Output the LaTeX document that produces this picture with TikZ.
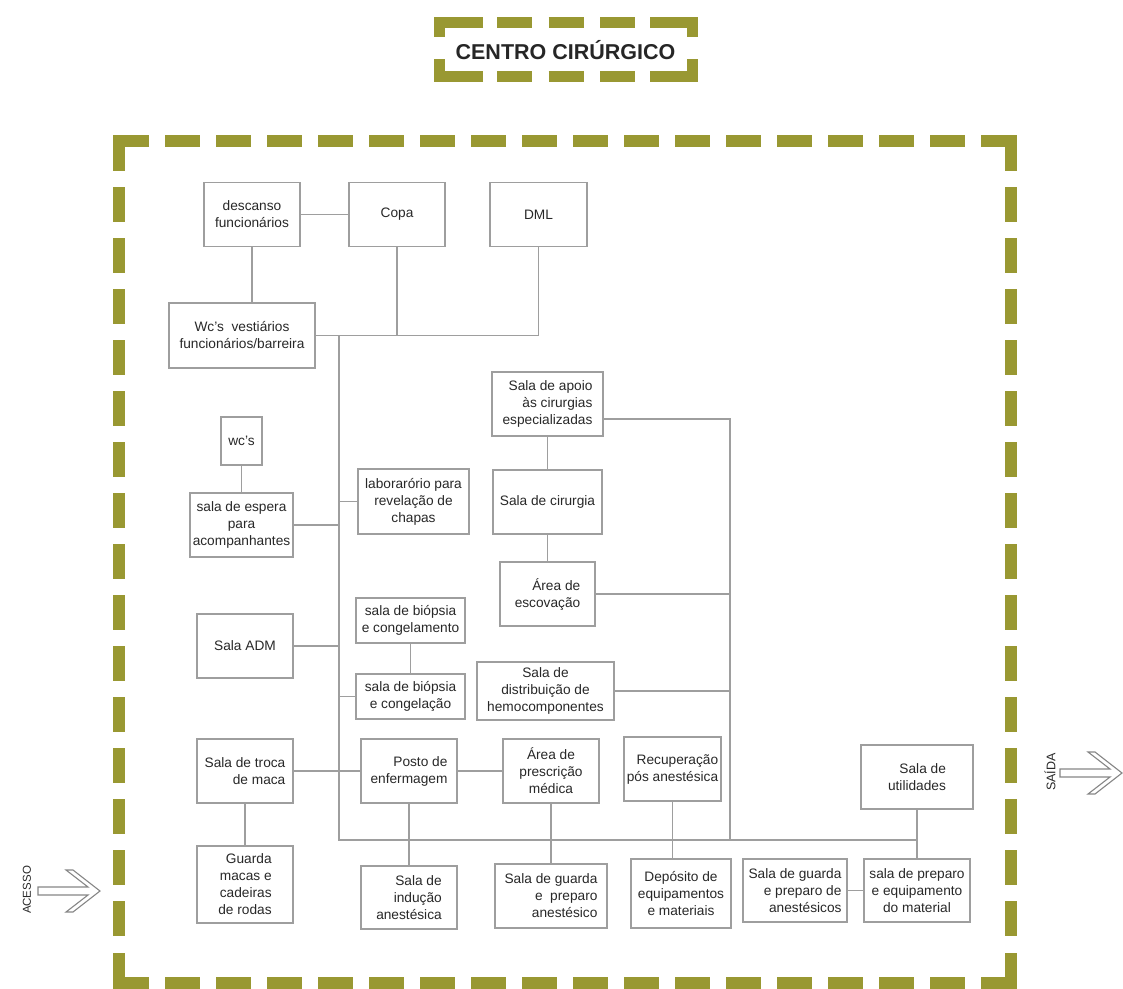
\documentclass[tikz,border=0pt]{standalone}
\usepackage{fontspec}
\setmainfont{Liberation Sans}
\usetikzlibrary{calc}
\definecolor{oliva}{RGB}{153,152,50}
\definecolor{cinza}{RGB}{158,158,158}
\definecolor{texto}{RGB}{40,40,40}
\tikzset{
  sala/.style={draw=cinza, line width=1.6pt, fill=white, text=texto, align=center,
    font=\fontsize{13.7}{17}\selectfont, minimum width=96pt, minimum height=64pt, inner sep=1pt},
  liga/.style={draw=cinza, line width=1.6pt},
  moldura/.style={draw=oliva, line width=12pt},
  moldurat/.style={draw=oliva, line width=11pt},
  pics/seta/.style={code={
    \draw[cinza!85!black, line width=1.1pt, fill=white, line join=miter]
      (-62,4) -- (-12,4) -- (-34,21) -- (-27,21) -- (0,0) -- (-27,-21)
      -- (-34,-21) -- (-12,-4) -- (-62,-4) -- cycle;}},
}

\begin{document}
\begin{tikzpicture}[x=1pt, y=-1pt]
    \useasboundingbox (0,0) rectangle (1123,988);

    % title frame
    \draw[moldurat] (483,22.5) -- (439,22.5) -- (439,37);
    \draw[moldurat] (650,22.5) -- (692.5,22.5) -- (692.5,37);
    \draw[moldurat] (483,76) -- (439,76) -- (439,59);
    \draw[moldurat] (650,76) -- (692.5,76) -- (692.5,59);
    \draw[moldurat, dash pattern=on 35pt off 16.5pt] (497,22.5) -- (635,22.5);
    \draw[moldurat, dash pattern=on 35pt off 16.5pt] (497,76) -- (635,76);
    \node[text=black!85, font=\fontsize{21.5}{24}\selectfont\bfseries] (titulo) at (565.5,50) {CENTRO CIRÚRGICO};

    % outer frame
    \draw[moldura] (149,141) -- (119,141) -- (119,171);
    \draw[moldura] (981,141) -- (1011,141) -- (1011,171);
    \draw[moldura] (1011,953) -- (1011,983) -- (981,983);
    \draw[moldura] (149,983) -- (119,983) -- (119,953);
    \draw[moldura, dash pattern=on 35pt off 16pt] (165,141) -- (965,141);
    \draw[moldura, dash pattern=on 35pt off 16pt] (165,983) -- (965,983);
    \draw[moldura, dash pattern=on 35pt off 16pt] (119,187) -- (119,936);
    \draw[moldura, dash pattern=on 35pt off 16pt] (1011,187) -- (1011,936);

    % access and exit
    \pic at (100,891) {seta};
    \node[rotate=90, text=texto, font=\fontsize{11.5}{12}\selectfont] (acesso) at (27,890) {ACESSO};
    \pic at (1122,773) {seta};
    \node[rotate=90, text=texto, font=\fontsize{12.5}{13}\selectfont] (saida) at (1050,772) {SAÍDA};

    % rooms
    \node[sala] (descanso) at (252,214.5) {descanso\\funcionários};
    \node[sala] (copa) at (397,214.5) {Copa};
    \node[sala, minimum width=97pt] (dml) at (538.5,214.5) {DML};
    \node[sala, minimum width=146pt, minimum height=65pt] (vestiario) at (242,335.5) {Wc's~ vestiários\\funcionários/barreira};
    \node[sala, minimum width=41pt, minimum height=48pt] (wc) at (241.5,441) {wc's};
    \node[sala, minimum width=103pt] (espera) at (241.5,525) {sala de espera\\para\\acompanhantes};
    \node[sala, minimum width=111pt, minimum height=65pt] (lab) at (413.5,501.5) {laborarório para\\revelação de\\chapas};
    \node[sala, minimum width=111pt, align=right] (apoio) at (547.5,404) {Sala de apoio\\às cirurgias\\especializadas};
    \node[sala, minimum width=109pt] (cirurgia) at (547.5,502) {Sala de cirurgia};
    \node[sala, minimum width=95pt, align=right] (escovacao) at (547.5,594) {Área de\\escovação};
    \node[sala, minimum width=109pt, minimum height=45pt] (biopsiaA) at (410.5,620.5) {sala de biópsia\\e congelamento};
    \node[sala, minimum width=109pt, minimum height=45pt] (biopsiaB) at (410.5,696.5) {sala de biópsia\\e congelação};
    \node[sala] (adm) at (245,646) {Sala ADM};
    \node[sala, minimum width=137pt, minimum height=58pt] (distrib) at (545.5,691) {Sala de\\distribuição de\\hemocomponentes};
    \node[sala, align=right] (troca) at (245,771) {Sala de troca\\de maca};
    \node[sala, align=right] (posto) at (409,771) {Posto de\\enfermagem};
    \node[sala] (prescricao) at (551,771) {Área de\\prescrição\\médica};
    \node[sala, minimum width=97pt, align=right] (recuperacao) at (672.5,769) {Recuperação\\pós anestésica};
    \node[sala, minimum width=112pt, align=right] (utilidades) at (917,777) {Sala de\\utilidades};
    \node[sala, minimum height=77pt, align=right] (macas) at (245,884.5) {Guarda\\macas e\\cadeiras\\de rodas};
    \node[sala, minimum height=63pt, align=right] (inducao) at (409,897.5) {Sala de\\indução\\anestésica};
    \node[sala, minimum width=112pt, align=right] (guardaprep) at (551,896) {Sala de guarda\\e~ preparo\\anestésico};
    \node[sala, minimum width=100pt, minimum height=69pt] (deposito) at (681,893.5) {Depósito de\\equipamentos\\e materiais};
    \node[sala, minimum width=104pt, minimum height=63pt, align=right] (anestesicos) at (795,890.5) {Sala de guarda\\e preparo de\\anestésicos};
    \node[sala, minimum width=106pt, minimum height=63pt] (preparo) at (917,890.5) {sala de preparo\\e equipamento\\do material};

    % main corridors
    \coordinate (eixo) at (339,840);
    \coordinate (direita) at (730,840);
    \draw[liga] (vestiario.east) -- (vestiario.east -| dml.south);
    \draw[liga] (vestiario.east -| eixo) -- (eixo) -- (eixo -| utilidades.south);
    \draw[liga] ($(apoio.east)+(0,15)$) -| (direita);

    % links
    \draw[liga] (descanso) -- (copa);
    \draw[liga] (descanso) -- (descanso |- vestiario.north);
    \draw[liga] (copa) -- (copa |- vestiario.east);
    \draw[liga] (dml) -- (dml |- vestiario.east);
    \draw[liga] (wc) -- (espera);
    \draw[liga] (espera.east) -- (espera.east -| eixo);
    \draw[liga] (lab.west) -- (lab.west -| eixo);
    \draw[liga] (apoio) -- (cirurgia);
    \draw[liga] (cirurgia) -- (escovacao);
    \draw[liga] ($(cirurgia.east)+(0,-7)$) -- ($(cirurgia.east)+(0,-7)$ -| direita);
    \draw[liga] ($(escovacao.west)+(0,-15)$) -- ($(escovacao.west)+(0,-15)$ -| eixo);
    \draw[liga] (escovacao.east) -- (escovacao.east -| direita);
    \draw[liga] (biopsiaA) -- (biopsiaB);
    \draw[liga] (biopsiaB.west) -- (biopsiaB.west -| eixo);
    \draw[liga] (adm.east) -- (adm.east -| eixo);
    \draw[liga] (distrib.east) -- (distrib.east -| direita);
    \draw[liga] (troca) -- (posto);
    \draw[liga] (posto) -- (prescricao);
    \draw[liga] (troca) -- (macas);
    \draw[liga] (posto) -- (inducao);
    \draw[liga] (prescricao) -- (guardaprep);
    \draw[liga] (recuperacao.south) -- (recuperacao.south |- deposito.north);
    \draw[liga] (utilidades) -- (preparo);
    \draw[liga] (anestesicos) -- (preparo);
\end{tikzpicture}
\end{document}
